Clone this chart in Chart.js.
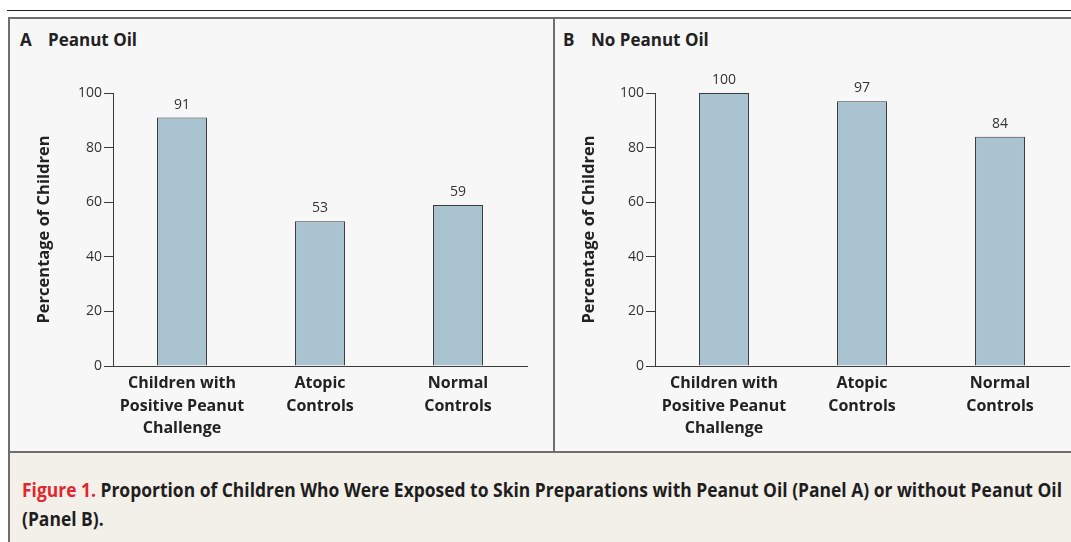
<!DOCTYPE html>
<html>
<head>
<meta charset="utf-8">
<script src="https://cdn.jsdelivr.net/npm/chart.js@4"></script>
<style>
  body { margin: 0; background: #fff; width: 1071px; height: 542px; position: relative; overflow: hidden; font-family: "Open Sans", sans-serif; }
  .abs { position: absolute; }
  #topRule { left: 7px; top: 10px; width: 1064px; height: 1px; background: #1f1f1f; }
  #frame { left: 8px; top: 17px; width: 1070px; height: 530px; border-top: 2px solid #6e6e6e; border-left: 2px solid #6e6e6e; background: #f7f7f7; box-sizing: border-box; }
  #divider { left: 553px; top: 19px; width: 2px; height: 433px; background: #6e6e6e; }
  #captionBox { left: 10px; top: 451px; width: 1061px; height: 91px; border-top: 2px solid #6e6e6e; background: #f3efe9; box-sizing: border-box; }
  .panelTitle { font-weight: bold; font-size: 17px; color: #222; white-space: pre; }
  .cap { font-family: "Liberation Sans Narrow", "Open Sans", sans-serif; font-weight: bold; font-size: 19px; color: #1e1e1e; white-space: pre; transform-origin: 0 50%; }
  .cap .red { color: #e1262c; }
</style>
</head>
<body>
<div id="topRule" class="abs"></div>
<div id="frame" class="abs"></div>
<div id="divider" class="abs"></div>
<div id="captionBox" class="abs"></div>

<div class="abs panelTitle" style="left:20px; top:28px;">A</div>
<div class="abs panelTitle" style="left:48px; top:28px;">Peanut Oil</div>
<div class="abs panelTitle" style="left:563px; top:28px;">B</div>
<div class="abs panelTitle" style="left:591px; top:28px;">No Peanut Oil</div>

<div class="abs" style="left:10px; top:19px; width:543px; height:432px;"><canvas id="chartA"></canvas></div>
<div class="abs" style="left:555px; top:19px; width:516px; height:432px;"><canvas id="chartB"></canvas></div>

<div id="cap1" class="abs cap" style="left:22px; top:477px;"><span class="red">Figure 1.</span> Proportion of Children Who Were Exposed to Skin Preparations with Peanut Oil (Panel A) or without Peanut Oil</div>
<div id="cap2" class="abs cap" style="left:22px; top:506px;">(Panel B).</div>

<script>
// categories shared by both panels
const categories = [
    ['Children with', 'Positive Peanut', 'Challenge'],
    ['Atopic', 'Controls'],
    ['Normal', 'Controls']
];

// percentage of children per group
const peanutOilValues = [91, 53, 59];
const noPeanutOilValues = [100, 97, 84];

// y axis ticks
const yTicks = [0, 20, 40, 60, 80, 100];

const barFill = '#aac3d0';
const lineColor = '#3a3a3a';

// draws the value above each bar
const valueLabels = {
    id: 'valueLabels',
    afterDatasetsDraw(chart) {
        const c = chart.ctx;
        const meta = chart.getDatasetMeta(0);
        c.save();
        c.font = '14px "Open Sans", sans-serif';
        c.fillStyle = '#333';
        c.textAlign = 'center';
        c.textBaseline = 'bottom';
        meta.data.forEach((bar, i) => {
            c.fillText(chart.data.datasets[0].data[i], bar.x, bar.y - 6);
        });
        c.restore();
    }
};

function makeChart(id, values, yWidth, rightPad) {
    const ctx = document.getElementById(id).getContext('2d');
    return new Chart(ctx, {
        type: 'bar',
        data: {
            labels: categories,
            datasets: [{
                data: values,
                backgroundColor: barFill,
                borderColor: lineColor,
                borderWidth: 1,
                categoryPercentage: 1,
                barPercentage: 0.362
            }]
        },
        options: {
            responsive: true,
            maintainAspectRatio: false,
            animation: false,
            layout: { padding: { top: 74, right: rightPad, bottom: 0, left: 0 } },
            plugins: { legend: { display: false }, tooltip: { enabled: false } },
            scales: {
                x: {
                    grid: { display: false, drawTicks: false },
                    border: { display: true, color: lineColor, width: 1 },
                    ticks: {
                        padding: 6,
                        color: '#222',
                        font: { family: '"Open Sans", sans-serif', size: 16, weight: 'bold', lineHeight: 1.42 },
                        maxRotation: 0,
                        autoSkip: false
                    },
                    afterFit: (scale) => { scale.height = 85; }
                },
                y: {
                    min: 0,
                    max: 100,
                    afterBuildTicks: (scale) => { scale.ticks = yTicks.map(v => ({ value: v })); },
                    grid: { drawOnChartArea: false, drawTicks: true, tickLength: 9, color: lineColor },
                    border: { display: true, color: lineColor, width: 1 },
                    ticks: {
                        padding: 2,
                        color: '#333',
                        font: { family: '"Open Sans", sans-serif', size: 14 }
                    },
                    title: {
                        display: true,
                        text: 'Percentage of Children',
                        color: '#222',
                        font: { family: '"Open Sans", sans-serif', size: 16.5, weight: 'bold' },
                        padding: { top: 24, bottom: 0 }
                    },
                    afterFit: (scale) => { scale.width = yWidth; }
                }
            }
        },
        plugins: [valueLabels]
    });
}

makeChart('chartA', peanutOilValues, 103, 26);
makeChart('chartB', noPeanutOilValues, 100, 2);

// squeeze the caption so the first line spans the same width as the original
const cap1 = document.getElementById('cap1');
const cap2 = document.getElementById('cap2');
const k = 1040 / cap1.getBoundingClientRect().width;
cap1.style.transform = 'scaleX(' + k + ')';
cap2.style.transform = 'scaleX(' + k + ')';
</script>
</body>
</html>
